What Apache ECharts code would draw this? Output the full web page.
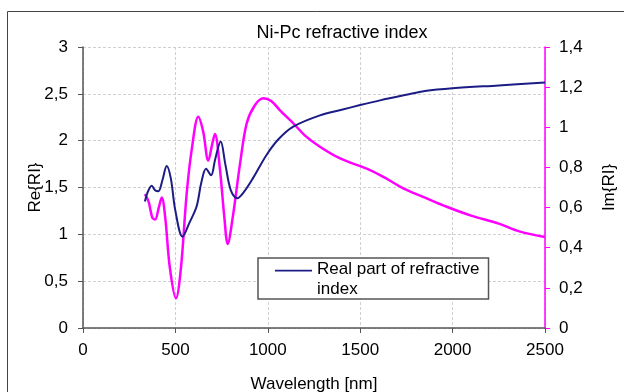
<!DOCTYPE html>
<html>
<head>
<meta charset="utf-8">
<script src="https://cdn.jsdelivr.net/npm/echarts@6/dist/echarts.min.js"></script>
<style>
  html, body { margin: 0; padding: 0; background: #fff; }
  #chart { width: 624px; height: 392px; }
</style>
</head>
<body>
<div id="chart"></div>
<script>
  // real part: wavelength [nm] and Re{RI}
  var reWave = [335, 350, 372, 390, 408, 430, 453, 475, 500, 539, 575, 615, 640, 666, 693, 715, 745, 770, 800, 835, 870, 920, 994, 1060, 1138, 1282, 1400, 1500, 1607, 1750, 1850, 2000, 2250, 2500];
  var reVal = [1.35, 1.45, 1.52, 1.47, 1.46, 1.58, 1.73, 1.60, 1.25, 0.975, 1.12, 1.30, 1.55, 1.70, 1.63, 1.80, 1.99, 1.75, 1.47, 1.385, 1.45, 1.60, 1.85, 2.02, 2.15, 2.27, 2.33, 2.38, 2.43, 2.49, 2.53, 2.56, 2.59, 2.62];
  // imaginary part: wavelength [nm] and Im{RI}
  var imWave = [335, 355, 375, 390, 410, 426, 445, 470, 503, 530, 561, 590, 624, 650, 678, 700, 714, 740, 765, 783, 810, 850, 886, 930, 976, 1020, 1070, 1138, 1200, 1282, 1391, 1553, 1650, 1733, 1850, 1968, 2100, 2250, 2365, 2500];
  var imVal = [0.667, 0.63, 0.55, 0.54, 0.60, 0.65, 0.55, 0.30, 0.148, 0.30, 0.67, 0.90, 1.053, 0.98, 0.834, 0.92, 0.967, 0.80, 0.55, 0.419, 0.55, 0.82, 1.02, 1.11, 1.145, 1.13, 1.08, 1.02, 0.96, 0.903, 0.845, 0.787, 0.74, 0.696, 0.65, 0.604, 0.56, 0.52, 0.48, 0.453];

  function pairs(xs, ys) {
    return xs.map(function (x, i) { return [x, ys[i]]; });
  }
  function comma(v) {
    return String(Math.round(v * 10) / 10).replace('.', ',');
  }

  var myChart = echarts.init(document.getElementById('chart'));
  var font = 'Liberation Sans, Arial, sans-serif';
  // legend line sits on the first text line: tiny second subpath stretches the box downwards
  var legendIcon = 'path://M0,0H40V2H0Z M0,20H0.01V20.01H0Z';
  var option = {
    animation: false,
    textStyle: { fontFamily: font },
    title: {
      text: 'Ni-Pc refractive index',
      left: 337,
      textAlign: 'center',
      top: 19,
      textStyle: { fontSize: 18, fontWeight: 'normal', color: '#000', fontFamily: font }
    },
    graphic: [{
      type: 'rect',
      shape: { x: 7.5, y: 11.5, width: 700, height: 500 },
      style: { fill: 'none', stroke: '#444', lineWidth: 1 },
      silent: true
    }],
    grid: { left: 83, right: 79, top: 47, bottom: 64, containLabel: false, outerBoundsMode: 'none' },
    legend: {
      data: ['Real part of refractive index'],
      left: 258,
      top: 258,
      orient: 'vertical',
      backgroundColor: '#fff',
      borderColor: '#555',
      borderWidth: 1.5,
      borderRadius: 0,
      padding: [1, 9, 0, 17],
      itemWidth: 37,
      itemHeight: 20,
      icon: legendIcon,
      formatter: function () { return 'Real part of refractive\nindex'; },
      textStyle: { fontSize: 17, color: '#000', lineHeight: 20, fontFamily: font }
    },
    xAxis: {
      type: 'value',
      min: 0, max: 2500, interval: 500,
      name: 'Wavelength [nm]',
      nameLocation: 'middle',
      nameGap: 48,
      nameTextStyle: { fontSize: 17, color: '#000' },
      axisLine: { lineStyle: { color: '#555', width: 1.5 } },
      axisTick: { show: true, inside: false, length: 5, lineStyle: { color: '#555' } },
      axisLabel: { fontSize: 17, color: '#000', margin: 14, formatter: function (v) { return String(v); } },
      splitLine: { show: true, lineStyle: { color: '#d0d0d0', type: [3, 2] } }
    },
    yAxis: [{
      type: 'value',
      min: 0, max: 3, interval: 0.5,
      name: 'Re{RI}',
      nameLocation: 'middle',
      nameGap: 39,
      nameMoveOverlap: false,
      nameTextStyle: { fontSize: 17, color: '#000' },
      axisLine: { show: true, lineStyle: { color: '#555', width: 1.5 } },
      axisTick: { show: true, length: 5, lineStyle: { color: '#555' } },
      axisLabel: { fontSize: 17, color: '#000', margin: 15, formatter: comma },
      splitLine: { show: true, lineStyle: { color: '#d0d0d0', type: [3, 2] } }
    }, {
      type: 'value',
      min: 0, max: 1.4, interval: 0.2,
      name: 'Im{RI}',
      nameLocation: 'middle',
      nameGap: 56,
      nameRotate: 90,
      nameMoveOverlap: false,
      nameTextStyle: { fontSize: 17, color: '#000' },
      axisLine: { show: true, lineStyle: { color: '#ff00ff', width: 1.5 } },
      axisTick: { show: true, length: 5, lineStyle: { color: '#ff00ff' } },
      axisLabel: { fontSize: 17, color: '#000', margin: 14, formatter: comma },
      splitLine: { show: false }
    }],
    series: [{
      name: 'Real part of refractive index',
      type: 'line',
      yAxisIndex: 0,
      data: pairs(reWave, reVal),
      smooth: 0.35,
      showSymbol: false,
      lineStyle: { color: '#1c1c86', width: 2 },
      itemStyle: { color: '#1c1c86' },
      z: 3
    }, {
      name: 'Imaginary part',
      type: 'line',
      yAxisIndex: 1,
      data: pairs(imWave, imVal),
      smooth: 0.35,
      showSymbol: false,
      lineStyle: { color: '#ff00ff', width: 2.5 },
      itemStyle: { color: '#ff00ff' },
      z: 2
    }]
  };
  option && myChart.setOption(option);
</script>
</body>
</html>
